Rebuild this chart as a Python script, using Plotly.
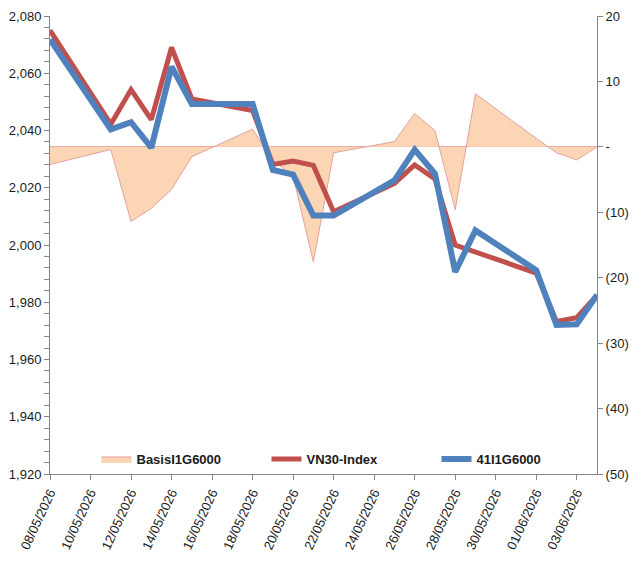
import plotly.graph_objects as go

dates = ["2026-05-08", "2026-05-11", "2026-05-12", "2026-05-13", "2026-05-14", "2026-05-15",
         "2026-05-18", "2026-05-19", "2026-05-20", "2026-05-21", "2026-05-22",
         "2026-05-25", "2026-05-26", "2026-05-27", "2026-05-28", "2026-05-29",
         "2026-06-01", "2026-06-02", "2026-06-03", "2026-06-04"]
vn30 = [2075.0, 2042.2, 2054.3, 2043.8, 2069.0, 2051.0, 2047.0, 2028.1, 2029.3, 2027.8, 2011.6,
        2021.5, 2028.0, 2023.1, 2000.0, 1997.6, 1990.2, 1973.3, 1974.6, 1982.5]
fut = [2071.8, 2040.4, 2042.9, 2034.0, 2062.3, 2049.3, 2049.3, 2026.2, 2024.6, 2010.3, 2010.3,
       2022.6, 2033.3, 2024.9, 1990.6, 2005.1, 1991.2, 1972.1, 1972.3, 1982.5]
basis = [-2.7, -0.4, -11.4, -9.4, -6.5, -1.5, 2.7, -2.0, -4.5, -17.6, -0.9,
         0.8, 5.1, 2.5, -9.6, 8.1, 1.3, -0.9, -2.0, 0.0]

left_ticks = list(range(1920, 2081, 20))
right_vals = [20, 10, 0, -10, -20, -30, -40, -50]
right_text = ["20", "10", "-", "(10)", "(20)", "(30)", "(40)", "(50)"]

FONT = "Liberation Sans, Arial, sans-serif"
AX = "#868686"

fig = go.Figure()
fig.add_trace(go.Scatter(x=dates, y=basis, name="BasisI1G6000", mode="lines",
                         fill="tozeroy", fillcolor="#FCD5B5",
                         line=dict(color="#E3A29C", width=1), yaxis="y"))
fig.add_trace(go.Scatter(x=dates, y=vn30, name="VN30-Index", mode="lines",
                         line=dict(color="#C0504D", width=5), yaxis="y2"))
fig.add_trace(go.Scatter(x=dates, y=fut, name="41I1G6000", mode="lines",
                         line=dict(color="#4F81BD", width=6), yaxis="y2"))

fig.update_layout(
    width=641, height=561,
    margin=dict(l=45, r=44, t=9, b=86),
    paper_bgcolor="white", plot_bgcolor="white",
    font=dict(family=FONT, size=13, color="#1a1a1a"),
    showlegend=True,
    legend=dict(orientation="h", x=0.085, y=0.0, xanchor="left", yanchor="bottom",
                font=dict(family=FONT, size=13, color="#1a1a1a", weight="bold"),
                entrywidth=125, entrywidthmode="pixels", bgcolor="rgba(0,0,0,0)",
                traceorder="normal", itemwidth=30),
    xaxis=dict(type="date", range=["2026-05-08", "2026-06-04"],
               tick0="2026-05-08", dtick=2 * 86400000, tickformat="%d/%m/%Y",
               tickangle=-65, showgrid=False, showline=True, linecolor=AX, linewidth=1,
               ticks="outside", ticklen=5, tickcolor=AX, zeroline=False,
               tickfont=dict(size=13)),
    yaxis=dict(side="right", range=[-50, 20], tickvals=right_vals, ticktext=right_text,
               showgrid=False, showline=True, linecolor=AX, linewidth=1,
               ticks="outside", ticklen=5, tickcolor=AX,
               zeroline=True, zerolinecolor="#E3A29C", zerolinewidth=1),
    yaxis2=dict(side="left", overlaying="y", range=[1920, 2080], tickvals=left_ticks,
                tickformat=",d", showgrid=False, showline=True, linecolor=AX, linewidth=1,
                ticks="outside", ticklen=5, tickcolor=AX, zeroline=False,
                minor=dict(dtick=4, ticks="outside", ticklen=5, tickcolor=AX)),
)

fig.write_html("out.html")
